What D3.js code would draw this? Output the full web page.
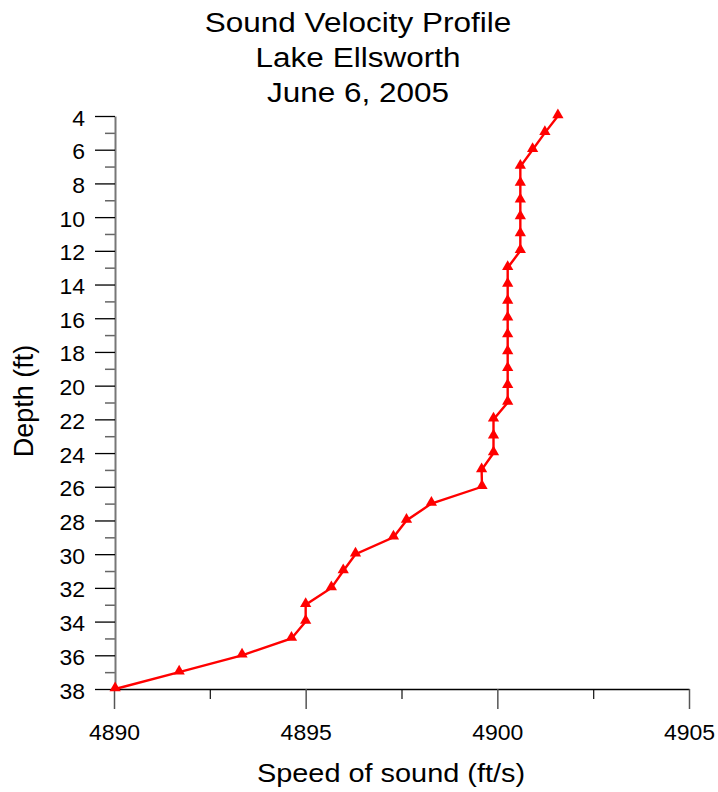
<!DOCTYPE html>
<html>
<head>
<meta charset="utf-8">
<script src="https://cdn.jsdelivr.net/npm/d3@7"></script>
<style>
  body { margin: 0; background: #fff; }
  text { font-family: "Liberation Sans", Arial, sans-serif; }
</style>
</head>
<body>
<svg id="chart" width="718" height="792"></svg>
<script>
// depth (ft) and sound speed (ft/s)
let depths = [4, 5, 6, 7, 8, 9, 10, 11, 12, 13, 14, 15, 16, 17, 18, 19, 20, 21,
	22, 23, 24, 25, 26, 27, 28, 29, 30, 31, 32, 33, 34, 35, 36, 37, 38];
let speeds = [4901.58, 4901.24, 4900.92, 4900.6, 4900.6, 4900.6, 4900.6, 4900.6, 4900.6,
	4900.27, 4900.27, 4900.27, 4900.27, 4900.27, 4900.27, 4900.27, 4900.27, 4900.27,
	4899.9, 4899.9, 4899.9, 4899.59, 4899.6, 4898.28, 4897.63, 4897.29, 4896.3,
	4895.98, 4895.67, 4895.0, 4895.0, 4894.63, 4893.34, 4891.7, 4890.03];

let xTicks = [4890, 4895, 4900, 4905];
let yTicks = [4, 6, 8, 10, 12, 14, 16, 18, 20, 22, 24, 26, 28, 30, 32, 34, 36, 38];
let titleLines = ['Sound Velocity Profile', 'Lake Ellsworth', 'June 6, 2005'];

let svg = d3.select('#chart');

let x = d3.scaleLinear().domain([4890, 4905]).range([114, 689]);
let y = d3.scaleLinear().domain([4, 38]).range([116, 689]);

let tickFont = 21.5, tickStretch = 1.07;

// x axis
let xMinor = d3.range(4890, 4905.01, 2.5).filter(v => !xTicks.includes(v));
svg.append('g')
	.attr('transform', 'translate(0,689)')
	.call(d3.axisBottom(x).tickValues(xMinor).tickSize(10).tickFormat(''))
	.call(g => g.select('.domain').remove())
	.call(g => g.selectAll('line').attr('stroke', '#222').attr('stroke-width', 1.3));

svg.append('g')
	.attr('transform', 'translate(0,689)')
	.call(d3.axisBottom(x).tickValues(xTicks).tickSize(20).tickSizeOuter(0).tickFormat(d3.format('d')))
	.call(g => g.select('.domain').attr('stroke', '#000').attr('stroke-width', 1.5))
	.call(g => g.selectAll('line').attr('stroke', '#555').attr('stroke-width', 1.5))
	.call(g => g.selectAll('text')
		.attr('dy', null)
		.attr('y', 51)
		.attr('font-size', tickFont).attr('fill', '#000')
		.attr('font-family', '"Liberation Sans", Arial, sans-serif')
		.attr('transform', `scale(${tickStretch},1)`));

// y axis
let yMinor = d3.range(5, 38, 2);
svg.append('g')
	.attr('transform', 'translate(115,0)')
	.call(d3.axisLeft(y).tickValues(yMinor).tickSize(10).tickFormat(''))
	.call(g => g.select('.domain').remove())
	.call(g => g.selectAll('line').attr('stroke', '#666').attr('stroke-width', 1.5));

svg.append('g')
	.attr('transform', 'translate(115,0)')
	.call(d3.axisLeft(y).tickValues(yTicks).tickSize(20).tickSizeOuter(0).tickFormat(d3.format('d')))
	.call(g => g.select('.domain').attr('stroke', '#777').attr('stroke-width', 2))
	.call(g => g.selectAll('line').attr('stroke', '#000').attr('stroke-width', 1.3))
	.call(g => g.selectAll('text')
		.attr('x', -30 / tickStretch)
		.attr('dy', '0.42em')
		.attr('font-size', tickFont).attr('fill', '#000')
		.attr('font-family', '"Liberation Sans", Arial, sans-serif')
		.attr('transform', `scale(${tickStretch},1)`));

// profile line
let pts = depths.map((d, i) => [speeds[i], d]);
svg.append('path')
	.datum(pts)
	.attr('fill', 'none')
	.attr('stroke', '#ff0000')
	.attr('stroke-width', 2.4)
	.attr('d', d3.line().x(p => x(p[0])).y(p => y(p[1])));

let tri = d3.symbol().type(d3.symbolTriangle).size(55);
svg.append('g')
	.selectAll('path')
	.data(pts)
	.join('path')
	.attr('transform', p => `translate(${x(p[0])},${y(p[1]) - 1})`)
	.attr('d', tri)
	.attr('fill', '#ff0000');

// titles
svg.append('g')
	.selectAll('text')
	.data(titleLines)
	.join('text')
	.attr('transform', (d, i) => `translate(358,${31.5 + i * 35}) scale(1.125,1)`)
	.attr('text-anchor', 'middle')
	.attr('font-size', 28)
	.text(d => d);

svg.append('text')
	.attr('transform', 'translate(391,782) scale(1.09,1)')
	.attr('text-anchor', 'middle')
	.attr('font-size', 26.5)
	.text('Speed of sound (ft/s)');

svg.append('text')
	.attr('transform', 'translate(33,401) rotate(-90)')
	.attr('text-anchor', 'middle')
	.attr('font-size', 27)
	.text('Depth (ft)');
</script>
</body>
</html>
